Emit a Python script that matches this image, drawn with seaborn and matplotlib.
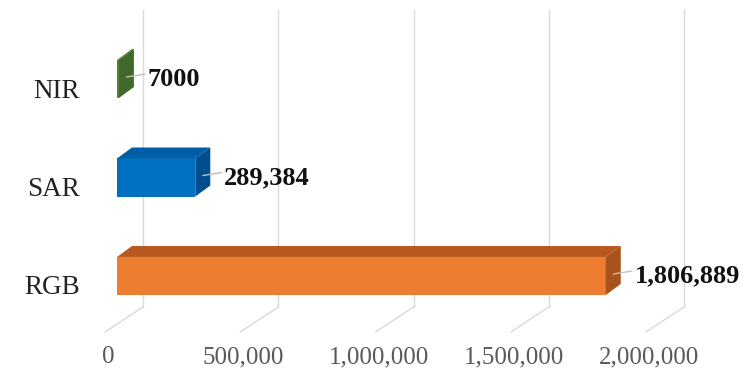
import matplotlib
matplotlib.use('Agg')
import matplotlib.pyplot as plt
import matplotlib.transforms as mtransforms
from matplotlib.patches import Polygon
import seaborn as sns
import pandas as pd

# datos del grafico
categories = ['NIR', 'SAR', 'RGB']
values = [7000, 289384, 1806889]
value_labels = ['7000', '289,384', '1,806,889']
front_colors = ['#548235', '#0070C0', '#ED7D31']
top_colors = ['#4C7A2E', '#005EA6', '#B85A1F']
side_colors = ['#41692A', '#004F8C', '#A8521C']
xticks = [0, 500000, 1000000, 1500000, 2000000]
xtick_labels = ['0', '500,000', '1,000,000', '1,500,000', '2,000,000']

sns.set_style('white')
plt.rcParams['font.family'] = ['Liberation Serif', 'DejaVu Serif']

df = pd.DataFrame({'cat': categories, 'val': values})

fig = plt.figure(figsize=(7.48, 3.72), dpi=100)
ax = fig.add_axes([90 / 748, 37 / 372, 630 / 748, 325 / 372])

bar_h = 0.386
sns.barplot(data=df, x='val', y='cat', hue='cat', orient='h', palette=front_colors,
            width=bar_h, legend=False, ax=ax, zorder=3, saturation=1, linewidth=0)

# escala: pixeles -> datos
sx = 1e6 / 270.5
sy = 1 / 98.5
ax.set_xlim(-27 * sx, 603 * sx)
ax.set_ylim(256 * sy, -69 * sy)

dx = 15 * sx   # profundidad de la barra
dy = 11 * sy

# lineas de la cuadricula (pared del fondo + piso)
y_top = -69 * sy
y_back = 228 * sy
y_front = 253 * sy
for t in xticks:
    xb = t + 26 * sx
    ax.plot([xb, xb], [y_top, y_back], color='#D9D9D9', lw=1, zorder=1, clip_on=False)
    ax.plot([xb, t - 12 * sx], [y_back, y_front], color='#D9D9D9', lw=1, zorder=1, clip_on=False)

# caras superior y lateral para el efecto 3D
h = bar_h / 2
for i, v in enumerate(values):
    top = [(0, i - h), (v, i - h), (v + dx, i - h - dy), (dx, i - h - dy)]
    side = [(v, i - h), (v + dx, i - h - dy), (v + dx, i + h - dy), (v, i + h)]
    ax.add_patch(Polygon(top, closed=True, color=top_colors[i], zorder=3, lw=0))
    ax.add_patch(Polygon(side, closed=True, color=side_colors[i], zorder=3, lw=0))
    # linea guia y etiqueta
    ax.plot([v + dx / 2, v + 26 * sx], [i - 0.02, i - 0.05], color='#BFBFBF', lw=1, zorder=4)
    ax.text(v + 29 * sx, i, value_labels[i], fontsize=19, fontweight='bold',
            va='center', ha='left', color='#111111', zorder=5)

ax.set_xticks(xticks)
ax.set_xticklabels(xtick_labels, fontsize=18, color='#595959')
ax.tick_params(axis='x', length=0, pad=8)
ax.tick_params(axis='y', length=0, pad=7, labelsize=19.5, labelcolor='#222222')
ax.set_xlabel('')
ax.set_ylabel('')
ax.grid(False)
for s in ax.spines.values():
    s.set_visible(False)

shift_x = mtransforms.ScaledTranslation(-9 / 100, 0, fig.dpi_scale_trans)
for lab in ax.get_xticklabels():
    lab.set_transform(lab.get_transform() + shift_x)
shift_y = mtransforms.ScaledTranslation(0, -9 / 100, fig.dpi_scale_trans)
for lab in ax.get_yticklabels():
    lab.set_transform(lab.get_transform() + shift_y)

fig.savefig('out.png', dpi=100)
